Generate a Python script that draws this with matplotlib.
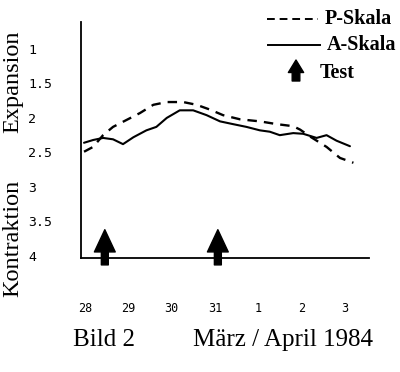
import matplotlib
matplotlib.use("Agg")
import matplotlib.pyplot as plt
from matplotlib.lines import Line2D
from matplotlib.patches import FancyArrowPatch

# ---- data ----
day_labels = ["28", "29", "30", "31", "1", "2", "3"]
y_ticks = [1, 1.5, 2, 2.5, 3, 3.5, 4]
y_ticklabels = ["1", "1.5", "2", "2.5", "3", "3.5", "4"]

a_x = [-0.02, 0.19, 0.42, 0.65, 0.88, 1.12, 1.42, 1.65, 1.89, 2.19, 2.50, 2.81,
       3.12, 3.42, 3.73, 4.04, 4.27, 4.50, 4.81, 5.04, 5.35, 5.58, 5.81, 6.12]
a_y = [2.36, 2.32, 2.29, 2.31, 2.38, 2.28, 2.18, 2.13, 2.00, 1.89, 1.89, 1.96,
       2.05, 2.09, 2.13, 2.18, 2.20, 2.25, 2.22, 2.23, 2.29, 2.25, 2.33, 2.41]

p_x = [-0.02, 0.19, 0.42, 0.65, 0.96, 1.27, 1.58, 1.89, 2.27, 2.58, 2.89, 3.19,
       3.58, 4.04, 4.43, 4.81, 4.97, 5.20, 5.58, 5.89, 6.20]
p_y = [2.49, 2.42, 2.25, 2.13, 2.03, 1.93, 1.81, 1.77, 1.77, 1.81, 1.88, 1.96,
       2.02, 2.05, 2.09, 2.12, 2.17, 2.27, 2.42, 2.58, 2.65]

test_days = [0.46, 3.07]

serif = "Liberation Serif"

fig = plt.figure(figsize=(4.0, 3.72), dpi=100)
W, H = 400, 372
ax = fig.add_axes([81 / W, 1 - 258 / H, (369 - 81) / W, (258 - 22) / H])

ax.plot(a_x, a_y, color="black", lw=1.5, solid_capstyle="round")
ax.plot(p_x, p_y, color="black", lw=1.7, dashes=(4, 3))

arrow_style = "simple,head_length=1.6,head_width=1.5,tail_width=0.5"
for d in test_days:
    ax.add_patch(FancyArrowPatch((d, 4.13), (d, 3.62), arrowstyle=arrow_style,
                                 mutation_scale=10, color="black",
                                 shrinkA=0, shrinkB=0, clip_on=False, zorder=5))

ax.set_xlim(-0.09, 6.56)
ax.set_ylim(4.03, 0.61)

ax.set_xticks(range(len(day_labels)))
ax.set_xticklabels(day_labels, fontfamily="DejaVu Sans Mono", fontsize=8.5)
ax.set_yticks(y_ticks)
ax.set_yticklabels(y_ticklabels, fontfamily="DejaVu Sans Mono", fontsize=9.5,
                   ha="left")
ax.tick_params(axis="x", length=0, pad=32)
ax.tick_params(axis="y", length=0, pad=38)

for s in ["top", "right"]:
    ax.spines[s].set_visible(False)
for s in ["left", "bottom"]:
    ax.spines[s].set_linewidth(1.3)

# axis titles
fig.text(13 / W, 1 - 82 / H, "Expansion", rotation=90, ha="center", va="center",
         fontfamily=serif, fontsize=17.5)
fig.text(13 / W, 1 - 238 / H, "Kontraktion", rotation=90, ha="center", va="center",
         fontfamily=serif, fontsize=17.5)

# bottom captions
fig.text(73 / W, 1 - 340 / H, "Bild 2", ha="left", va="center",
         fontfamily=serif, fontsize=18)
fig.text(193 / W, 1 - 340 / H, "März / April 1984", ha="left", va="center",
         fontfamily=serif, fontsize=18)

# legend
fig.add_artist(Line2D([267 / W, 318 / W], [1 - 19 / H, 1 - 19 / H],
                      color="black", lw=1.4, dashes=(4, 2.5)))
fig.text(325 / W, 1 - 19 / H, "P-Skala", ha="left", va="center",
         fontfamily=serif, fontweight="bold", fontsize=14.5)
fig.add_artist(Line2D([268 / W, 320 / W], [1 - 45 / H, 1 - 45 / H],
                      color="black", lw=1.4))
fig.text(327 / W, 1 - 45 / H, "A-Skala", ha="left", va="center",
         fontfamily=serif, fontweight="bold", fontsize=14.5)
fig.add_artist(FancyArrowPatch((296 / W, 1 - 81 / H), (296 / W, 1 - 60 / H),
                               transform=fig.transFigure,
                               arrowstyle="simple,head_length=0.9,head_width=1.1,tail_width=0.55",
                               mutation_scale=10, color="black",
                               shrinkA=0, shrinkB=0))
fig.text(320 / W, 1 - 73 / H, "Test", ha="left", va="center",
         fontfamily=serif, fontweight="bold", fontsize=14.5)

fig.savefig("out.png", dpi=100)
